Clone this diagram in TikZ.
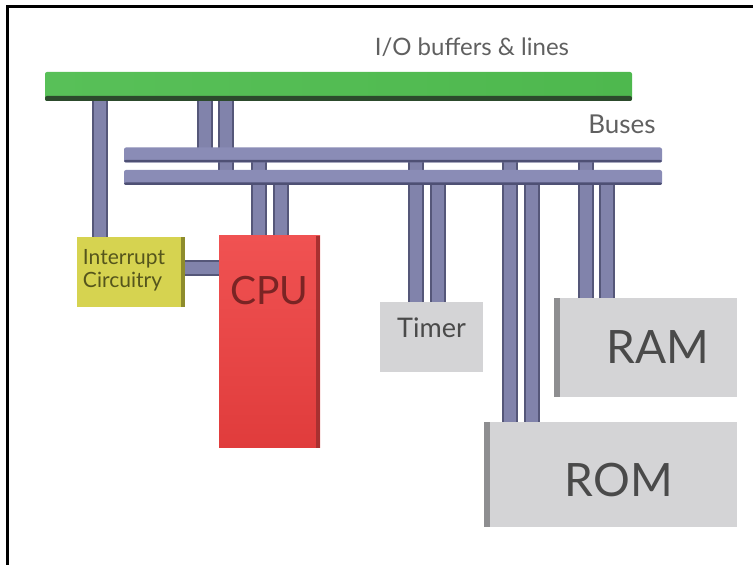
\documentclass[tikz,border=0pt]{standalone}
\usepackage{fontspec}
\setmainfont{Lato}
\usetikzlibrary{backgrounds}

\definecolor{ioleft}{HTML}{58C058}
\definecolor{iomid}{HTML}{7ADC7A}
\definecolor{ioright}{HTML}{4EB84E}
\definecolor{ioshade}{HTML}{2C4A2C}
\definecolor{buslight}{HTML}{9C9EC8}
\definecolor{busmid}{HTML}{8A8CB6}
\definecolor{busdark}{HTML}{4E5074}
\definecolor{wirec}{HTML}{8183AB}
\definecolor{wiredark}{HTML}{555779}
\definecolor{irqfill}{HTML}{D6D350}
\definecolor{irqside}{HTML}{8E8C2C}
\definecolor{irqtxt}{HTML}{55551C}
\definecolor{cputop}{HTML}{F05252}
\definecolor{cpubot}{HTML}{E03C3C}
\definecolor{cpuside}{HTML}{A83030}
\definecolor{cputxt}{HTML}{7A2424}
\definecolor{grayfill}{HTML}{D4D4D6}
\definecolor{grayside}{HTML}{8E8E90}
\definecolor{graytxt}{HTML}{4A4A4A}
\definecolor{labeltxt}{HTML}{606060}

\tikzset{
  bar/.style={inner sep=0pt, outer sep=0pt, rounded corners=1pt},
  iobar/.style={bar, left color=ioleft, middle color=iomid, right color=ioright,
    path picture={\fill[ioshade] ([yshift=2.5pt]path picture bounding box.south west)
      rectangle (path picture bounding box.south east);}},
  busbar/.style={bar, left color=busmid, middle color=buslight, right color=busmid,
    path picture={\fill[busdark] ([yshift=1.3pt]path picture bounding box.south west)
      rectangle (path picture bounding box.south east);}},
  wire/.style={draw=wiredark, line width=0.8pt, double=wirec, double distance=6pt},
  box/.style={inner sep=0pt, outer sep=0pt},
  irqbox/.style={box, fill=irqfill,
    path picture={\fill[irqside] ([xshift=-1.8pt]path picture bounding box.north east)
      rectangle (path picture bounding box.south east);}},
  cpubox/.style={box, top color=cputop, bottom color=cpubot,
    path picture={\fill[cpuside] ([xshift=-1.8pt]path picture bounding box.north east)
      rectangle (path picture bounding box.south east);}},
  membox/.style={box, fill=grayfill,
    path picture={\fill[grayside] (path picture bounding box.north west)
      rectangle ([xshift=3pt]path picture bounding box.south west);}},
  plainbox/.style={box, fill=grayfill},
  title/.style={text=labeltxt, font=\fontsize{12}{14}\selectfont}
}

\begin{document}
\begin{tikzpicture}[x=0.5pt, y=-0.5pt]
  \useasboundingbox (0,0) rectangle (753,565);
  \draw[line width=1.2pt] (7.5,565) -- (7.5,6.5) -- (753,6.5);

  % titles
  \node[title] (iotitle) at (472,47) {I/O buffers \& lines};
  \node[title, font=\fontsize{13}{15}\selectfont] (bustitle) at (622,124) {Buses};

  % bars
  \node[iobar, minimum width=293.5pt, minimum height=14.5pt] (io) at (338.5,86.5) {};
  \node[busbar, minimum width=269pt, minimum height=7.5pt] (topbus) at (393,155) {};
  \node[busbar, minimum width=269pt, minimum height=7.5pt] (botbus) at (393,177.5) {};

  % blocks
  \node[irqbox, minimum width=54pt, minimum height=35pt,
    label={[align=left, text=irqtxt, font=\fontsize{10.5}{11.5}\selectfont,
      xshift=-3.5pt, yshift=1pt]center:Interrupt\\Circuitry}] (irq) at (131,272) {};
  \node[cpubox, minimum width=50.5pt, minimum height=106pt,
    label={[text=cputxt, font=\fontsize{19.5}{22}\selectfont, yshift=25.5pt]center:CPU}] (cpu) at (269.5,342) {};
  \node[plainbox, minimum width=51.5pt, minimum height=35pt,
    label={[text=graytxt, font=\fontsize{13.5}{15}\selectfont, yshift=4.5pt]center:Timer}] (timer) at (431.5,337) {};
  \node[membox, minimum width=91.5pt, minimum height=49.5pt,
    label={[text=graytxt, font=\fontsize{23}{25}\selectfont, xshift=6pt]center:RAM}] (ram) at (645.5,347.5) {};
  \node[membox, minimum width=126.5pt, minimum height=52.5pt,
    label={[text=graytxt, font=\fontsize{23}{25}\selectfont, xshift=4.25pt, yshift=-2.75pt]center:ROM}] (rom) at (610.5,474.5) {};

  % wires, behind everything
  \begin{scope}[on background layer]
    \draw[wire] (io.center -| 100,0) -- (irq.center -| 100,0);
    \draw[wire] (io.center -| 205,0) -- (topbus.center -| 205,0);
    \draw[wire] (io.center -| 226,0) -- (botbus.center -| 226,0);
    \draw[wire] (topbus.center -| 259,0) -- (cpu.center -| 259,0);
    \draw[wire] (botbus.center -| 281,0) -- (cpu.center -| 281,0);
    \draw[wire] (topbus.center -| 416,0) -- (timer.center -| 416,0);
    \draw[wire] (botbus.center -| 438,0) -- (timer.center -| 438,0);
    \draw[wire] (topbus.center -| 510,0) -- (rom.center -| 510,0);
    \draw[wire] (botbus.center -| 532,0) -- (rom.center -| 532,0);
    \draw[wire] (topbus.center -| 586,0) -- (ram.center -| 586,0);
    \draw[wire] (botbus.center -| 607,0) -- (ram.center -| 607,0);
    \draw[wire] ([yshift=2pt]irq.center) -- ([yshift=2pt]irq.center -| cpu.center);
  \end{scope}
\end{tikzpicture}
\end{document}
